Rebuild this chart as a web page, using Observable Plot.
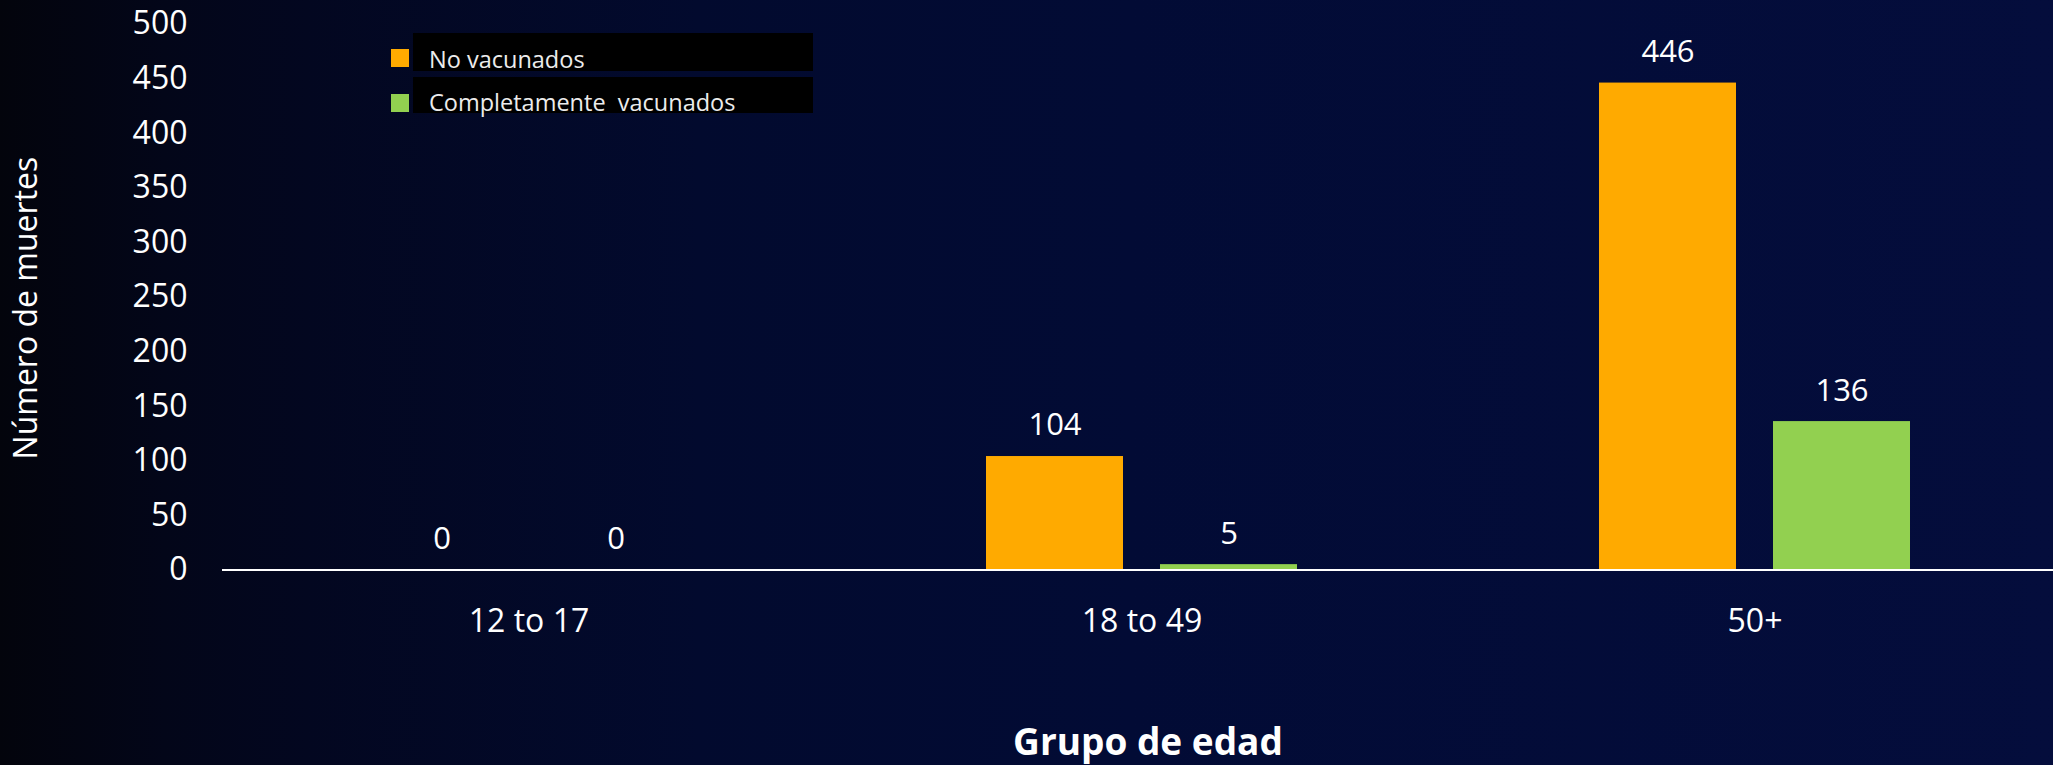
<!DOCTYPE html>
<html>
<head>
<meta charset="utf-8">
<script src="https://cdn.jsdelivr.net/npm/d3@7"></script>
<script src="https://cdn.jsdelivr.net/npm/@observablehq/plot@0.6"></script>
<style>
  html, body { margin: 0; padding: 0; }
  body {
    width: 2053px; height: 765px; overflow: hidden;
    background: linear-gradient(to right, #03040c 0%, #030619 8%, #030720 15%, #020a2e 34%, #020b35 55%, #040d3c 100%);
    font-family: "Open Sans", sans-serif;
  }
  #wrap { position: relative; width: 2053px; height: 765px; overflow: hidden; }
  #chart { position: absolute; left: 0; top: 0; width: 2061px; }
  #chart svg { max-width: none !important; }
  .lg-box { position: absolute; left: 413px; width: 400px; background: #000; }
  .lg-swatch { position: absolute; left: 391px; width: 18px; height: 18px; }
  .lg-text { position: absolute; left: 429px; color: #ececec; font-size: 23.5px; line-height: 1; white-space: pre; }
</style>
</head>
<body>
<div id="wrap">
  <div id="chart"></div>
  <div id="legend"></div>
</div>
<script>
// ---- data ----
const groups = ["12 to 17", "18 to 49", "50+"];
const series = ["No vacunados", "Completamente  vacunados"];
const noVacunados = [0, 104, 446];
const completamenteVacunados = [0, 5, 136];
const yTicks = [0, 50, 100, 150, 200, 250, 300, 350, 400, 450, 500];
const xTitle = "Grupo de edad";
const yTitle = "Número de muertes";

// ---- styles ----
const seriesColors = ["#FFAA00", "#92D050"];

const rows = [];
groups.forEach((g, i) => {
  rows.push({group: g, series: series[0], value: noVacunados[i]});
  rows.push({group: g, series: series[1], value: completamenteVacunados[i]});
});

const chart = Plot.plot({
  width: 2061,
  height: 765,
  marginLeft: 222,
  marginRight: 0,
  marginTop: 23.6,
  marginBottom: 195.4,
  style: {background: "transparent", color: "white", fontFamily: "'Open Sans', sans-serif", fontSize: "32px", maxWidth: "none"},
  fx: {domain: groups, padding: 0},
  x: {domain: series, axis: null, paddingInner: 0.213, paddingOuter: 0.866},
  y: {domain: [0, 500]},
  color: {domain: series, range: seriesColors},
  marks: [
    Plot.axisY({ticks: yTicks, tickSize: 0, tickPadding: 35, label: null, fontSize: 32, fill: "white"}),
    Plot.axisFx({anchor: "bottom", tickSize: 0, tickPadding: 39, label: null, fontSize: 32, fill: "white"}),
    Plot.barY(rows, {fx: "group", x: "series", y: "value", fill: "series"}),
    Plot.text(rows, {fx: "group", x: "series", y: "value", text: d => String(d.value), dy: -31, fill: "white", fontSize: 31}),
    Plot.ruleY([0], {stroke: "white", strokeWidth: 2}),
    Plot.text([xTitle], {facet: "super", frameAnchor: "bottom", lineAnchor: "middle", textAnchor: "middle", dy: 173.5, dx: 6, fontSize: 37, fontWeight: "bold", fill: "white"}),
    Plot.text([yTitle], {facet: "super", frameAnchor: "left", textAnchor: "middle", lineAnchor: "middle", rotate: -90, dx: -196, dy: 11, fontSize: 32, fill: "white"})
  ]
});
document.getElementById("chart").appendChild(chart);

// ---- legend ----
const legend = document.getElementById("legend");
const boxTops = [33, 77], boxHeights = [38, 36], swatchTops = [49, 94], textTops = [48, 91];
series.forEach((s, i) => {
  const box = document.createElement("div");
  box.className = "lg-box";
  box.style.top = boxTops[i] + "px";
  box.style.height = boxHeights[i] + "px";
  legend.appendChild(box);
  const sw = document.createElement("div");
  sw.className = "lg-swatch";
  sw.style.top = swatchTops[i] + "px";
  sw.style.background = seriesColors[i];
  legend.appendChild(sw);
  const t = document.createElement("div");
  t.className = "lg-text";
  t.style.top = textTops[i] + "px";
  t.textContent = s;
  legend.appendChild(t);
});
</script>
</body>
</html>
